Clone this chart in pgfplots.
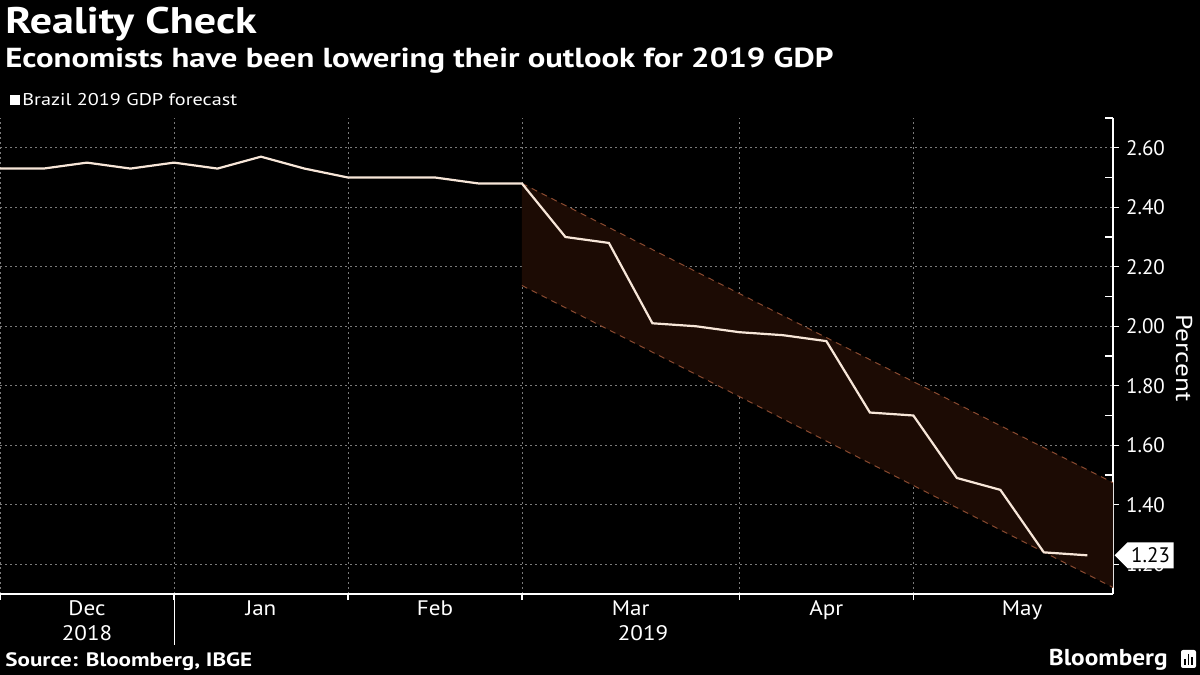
\documentclass[border=0pt]{standalone}
\usepackage{pgfplots}
\pgfplotsset{compat=1.18}
\usetikzlibrary{shapes.symbols}
\usepackage{fontspec}
\setmainfont{PT Sans}
\newfontfamily\wide[FakeStretch=1.19]{PT Sans}
\newfontfamily\midwide[FakeStretch=1.1]{PT Sans}
\definecolor{bandfill}{HTML}{1C0B04}
\definecolor{banddash}{HTML}{8A4A30}
\definecolor{gdpline}{HTML}{F7E6D8}
\definecolor{gridgray}{HTML}{7A7A7A}

\begin{document}
\begin{tikzpicture}
\fill[black] (0,0) rectangle (600pt,337.5pt);
\path[use as bounding box] (0,0) rectangle (600pt,337.5pt);
% titles
\node[anchor=west, text=white, font=\wide\fontsize{18.5}{20}\selectfont\bfseries, inner sep=0pt] at (2.5pt,325.5pt) {Reality Check};
\node[anchor=west, text=white, font=\wide\fontsize{13.75}{15}\selectfont\bfseries, inner sep=0pt] at (2.5pt,307pt) {Economists have been lowering their outlook for 2019 GDP};
\fill[white] (5pt,285pt) rectangle (10pt,290pt);
\node[anchor=west, text=white, font=\wide\fontsize{8.5}{10}\selectfont, inner sep=0pt] at (11pt,287.5pt) {Brazil 2019 GDP forecast};
\begin{axis}[
  at={(0pt,40.5pt)}, anchor=south west,
  scale only axis, width=556.5pt, height=238pt,
  xmin=0, xmax=25.59, ymin=1.10, ymax=2.70,
  axis x line*=bottom, axis y line*=right,
  axis line style={white, line width=0.6pt},
  every tick/.style={white, line width=0.6pt},
  tick align=outside, major tick length=3pt,
  xtick={0,4,8,12,17,21}, xticklabels={},
  extra x ticks={2,6,10,14.5,19,23.5},
  extra x tick labels={Dec,Jan,Feb,Mar,Apr,May},
  extra x tick style={major tick length=0pt, grid=none},
  ytick={1.2,1.4,1.6,1.8,2.0,2.2,2.4,2.6},
  yticklabels={1.20,1.40,1.60,1.80,2.00,2.20,2.40,2.60},
  extra y ticks={1.3,1.5,1.7,1.9,2.1,2.3,2.5,2.7},
  extra y tick labels={},
  extra y tick style={grid=none, tick align=inside, major tick length=4pt},
  tick label style={text=white, font=\midwide\fontsize{10.5}{12}\selectfont},
  yticklabel style={font=\fontsize{10.5}{12}\selectfont},
  grid=major,
  major grid style={gridgray, dash pattern=on 1pt off 1.5pt, line width=0.4pt},
]
\addplot[fill=bandfill, draw=none] coordinates {(12,2.48) (25.59,1.474) (25.59,1.122) (12,2.137)} -- cycle;
\addplot[banddash, dash pattern=on 3pt off 2.5pt, line width=0.5pt] coordinates {(12,2.48) (25.59,1.474)};
\addplot[banddash, dash pattern=on 3pt off 2.5pt, line width=0.5pt] coordinates {(12,2.137) (25.59,1.122)};
\addplot[gdpline, line width=1.1pt] coordinates {
(0,2.53) (1,2.53) (2,2.55) (3,2.53) (4,2.55) (5,2.53) (6,2.57) (7,2.53)
(8,2.50) (9,2.50) (10,2.50) (11,2.48) (12,2.48) (13,2.30) (14,2.28)
(15,2.01) (16,2.00) (17,1.98) (18,1.97) (19,1.95) (20,1.71) (21,1.70)
(22,1.49) (23,1.45) (24,1.24) (25,1.23)};
\end{axis}
% axis title
\node[rotate=-90, text=white, font=\wide\fontsize{11.5}{13}\selectfont, inner sep=0pt] at (592pt,158.5pt) {Percent};
% value tag at the right axis (x = 556.5pt, y of 1.23)
\node[signal, signal to=west, fill=white, text=black, inner xsep=1.8pt, inner ysep=2pt, anchor=west, font=\fontsize{10.5}{12}\selectfont, minimum height=13pt] at (557pt,{40.5pt+238pt*(1.23-1.10)/1.6}) {1.23};
% year row
\draw[white, line width=0.5pt] (87pt,38.5pt) -- (87pt,15pt);
\node[text=white, font=\midwide\fontsize{10.5}{12}\selectfont] at (43.5pt,21pt) {2018};
\node[text=white, font=\midwide\fontsize{10.5}{12}\selectfont] at (321.5pt,21pt) {2019};
% source
\node[anchor=west, text=white, font=\wide\fontsize{9.7}{11}\selectfont\bfseries, inner sep=0pt] at (2.5pt,6.5pt) {Source: Bloomberg, IBGE};
\node[anchor=east, text=white, font=\midwide\fontsize{11.5}{13}\selectfont\bfseries, inner sep=0pt] at (584pt,7.5pt) {Bloomberg};
\fill[white, rounded corners=1pt] (590.5pt,3.5pt) rectangle (598pt,12.5pt);
\fill[black] (592.2pt,5.2pt) rectangle (592.9pt,8pt);
\fill[black] (593.9pt,5.2pt) rectangle (594.6pt,10.5pt);
\fill[black] (595.6pt,5.2pt) rectangle (596.3pt,9pt);
\end{tikzpicture}
\end{document}
